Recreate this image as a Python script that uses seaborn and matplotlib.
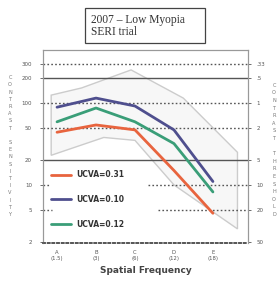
import matplotlib
matplotlib.use("Agg")
import matplotlib.pyplot as plt
import seaborn as sns
import pandas as pd
import numpy as np

# ---- data ----
freq_labels = ["A\n(1.5)", "B\n(3)", "C\n(6)", "D\n(12)", "E\n(18)"]
series_names = ["UCVA=0.31", "UCVA=0.10", "UCVA=0.12"]
red_vals = [44, 54, 47, 15, 4.5]
purple_vals = [89, 115, 92, 47, 11]
green_vals = [59, 87, 59, 32, 8.2]
colors = ["#e8643e", "#4f4f8e", "#3a9e78"]

# normal range band (upper edge then lower edge)
band_x_upper = [-0.15, 0.63, 1.9, 3.24, 4.63]
band_y_upper = [125, 153, 254, 115, 25]
band_x_lower = [4.63, 3.0, 2.0, 1.2, -0.15]
band_y_lower = [2.9, 10, 35, 38, 23]

cs_ticks = [300, 200, 100, 50, 20, 10, 5, 2]
cs_labels = ["300", "200", "100", "50", "20", "10", "5", "2"]
pct_labels = [".33", ".5", "1", "2", "5", "10", "20", "50"]

sns.set_theme(style="white")
plt.rcParams['font.family'] = ['DejaVu Sans']

rows = []
for name, vals in zip(series_names, [red_vals, purple_vals, green_vals]):
    for i, v in enumerate(vals):
        rows.append({"freq": i, "cs": v, "group": name})
df = pd.DataFrame(rows)

W, H = 278, 281
fig = plt.figure(figsize=(W / 100, H / 100), dpi=100)
fig.patch.set_facecolor("white")
ax = fig.add_axes([43 / W, 1 - 243 / H, 205 / W, 193 / H])
ax.set_yscale("log")
ax.set_ylim(1.95, 445)
ax.set_xlim(-0.36, 4.9)

# band
bx = band_x_upper + band_x_lower
by = band_y_upper + band_y_lower
ax.fill(bx, by, facecolor="#f7f7f7", edgecolor="#cccccc", lw=1.0, zorder=1)

# gridlines
dot = (0, (1.2, 1.6))
styles = {300: dot, 200: "-", 100: dot, 50: dot, 20: "-", 10: dot, 5: dot}
for t in [300, 200, 100, 50, 20]:
    ax.axhline(t, color="#555555", lw=1.0, ls=styles[t], zorder=2)
ax.axhline(10, xmin=0, xmax=0.035, color="#555555", lw=1.0, ls=dot, zorder=2)
ax.axhline(10, xmin=0.51, xmax=1, color="#555555", lw=1.0, ls=dot, zorder=2)
ax.axhline(5, xmin=0, xmax=0.045, color="#555555", lw=1.0, ls=dot, zorder=2)
ax.axhline(5, xmin=0.56, xmax=1, color="#555555", lw=1.0, ls=dot, zorder=2)

sns.lineplot(data=df, x="freq", y="cs", hue="group", hue_order=series_names,
             palette=colors, lw=2.0, ax=ax, legend=False, zorder=4)

# legend
from matplotlib.lines import Line2D
handles = [Line2D([], [], color=c, lw=2.0) for c in colors]
leg = ax.legend(handles, series_names, loc="upper left",
                bbox_to_anchor=(0.015, 0.405), frameon=False, fontsize=5.5,
                labelspacing=2.05, handlelength=2.6, handletextpad=0.7,
                borderpad=0.2)
for t in leg.get_texts():
    t.set_color("#333333")
    t.set_fontweight("bold")

ax.set_yticks(cs_ticks)
ax.set_yticklabels(cs_labels)
ax.yaxis.set_minor_locator(matplotlib.ticker.NullLocator())
ax.tick_params(axis="y", labelsize=4, colors="#555555", length=2, pad=6, width=0.6)
ax.set_xticks(range(len(freq_labels)))
ax.set_xticklabels(freq_labels)
ax.tick_params(axis="x", labelsize=3.8, colors="#555555", length=3, pad=2, width=0.6)
ax.set_xlabel("Spatial Frequency", fontsize=6.5, fontweight="bold", color="#444444", labelpad=4)
ax.set_ylabel("")

ax2 = ax.twinx()
ax2.set_yscale("log")
ax2.set_ylim(ax.get_ylim())
ax2.set_yticks(cs_ticks)
ax2.set_yticklabels(pct_labels)
ax2.yaxis.set_minor_locator(matplotlib.ticker.NullLocator())
ax2.tick_params(axis="y", labelsize=4, colors="#555555", length=2, pad=4, width=0.6)

for a in (ax, ax2):
    for s in ["left", "right", "top"]:
        a.spines[s].set_color("#999999")
        a.spines[s].set_linewidth(0.8)
    a.spines["bottom"].set_color("#555555")
    a.spines["bottom"].set_linewidth(1.2)
    a.spines["bottom"].set_linestyle(dot)

# side labels (stacked letters)
fig.text(10 / W, 1 - 146 / H, "\n".join("CONTRAST SENSITIVITY"), fontsize=3.6,
         color="#777777", ha="center", va="center", linespacing=1.55)
fig.text(274 / W, 1 - 150 / H, "\n".join("CONTRAST THRESHOLD"), fontsize=3.6,
         color="#777777", ha="center", va="center", linespacing=1.65)

# title box
fig.text(91 / W, 1 - 26 / H, "2007 \u2013 Low Myopia\nSERI trial", fontsize=8.3,
         family=["Liberation Serif"], color="#333333", ha="left", va="center",
         linespacing=1.1)
from matplotlib.patches import Rectangle
fig.patches.append(Rectangle((85 / W, 1 - 43 / H), 120 / W, 35 / H,
                             transform=fig.transFigure, fill=False,
                             edgecolor="#444444", lw=0.9))

fig.savefig("out.png", dpi=100)
